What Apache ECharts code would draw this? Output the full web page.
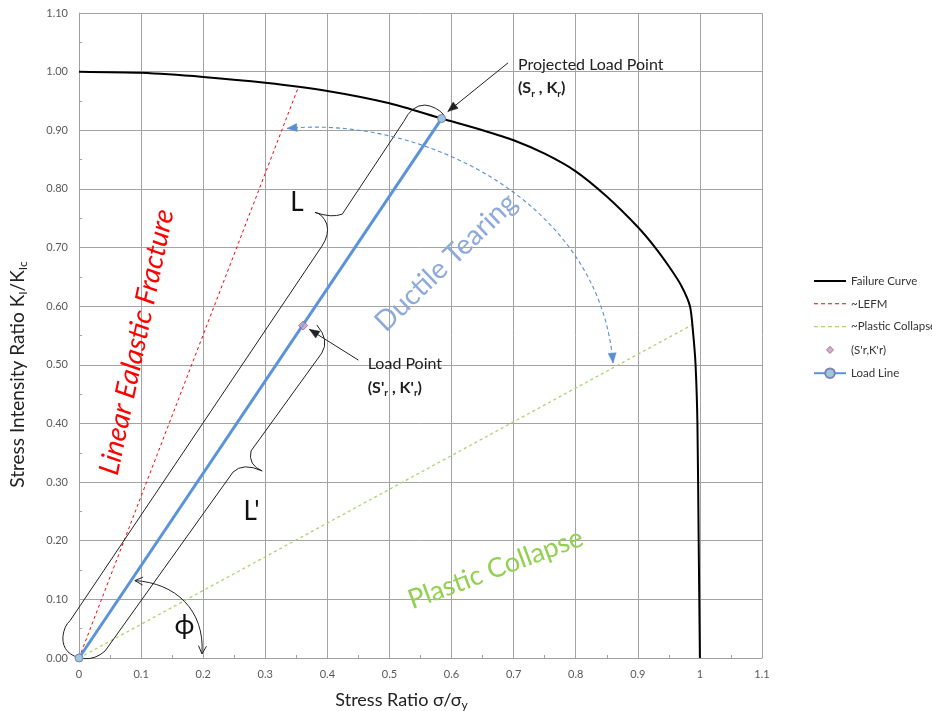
<!DOCTYPE html>
<html>
<head>
<meta charset="utf-8">
<script src="https://cdn.jsdelivr.net/npm/echarts@6/dist/echarts.min.js"></script>
<style>html,body{margin:0;padding:0;background:#fff}#c{width:932px;height:711px}</style>
</head>
<body>
<div id="c"></div>
<script>
// ---- data ----
const failureX = [0, 0.1, 0.2, 0.3, 0.4, 0.5, 0.584, 0.65, 0.7, 0.75, 0.8, 0.85, 0.9, 0.928, 0.95, 0.97, 0.984, 0.989, 0.993, 0.996, 0.998, 1.0];
const failureY = [1.0, 0.998, 0.991, 0.981, 0.967, 0.946, 0.920, 0.900, 0.883, 0.860, 0.830, 0.787, 0.735, 0.700, 0.668, 0.635, 0.600, 0.555, 0.500, 0.400, 0.200, 0.000];
const lefmX = [0, 0.352];
const lefmY = [0, 0.97];
const plasticX = [0, 0.987];
const plasticY = [0, 0.568];
const loadLineX = [0, 0.584];
const loadLineY = [0, 0.920];
const loadPointX = [0.361];
const loadPointY = [0.567];
const seriesNames = ['Failure Curve', '~LEFM', '~Plastic Collapse', "(S'r,K'r)", 'Load Line'];

// annotation geometry in data coordinates
const braceL = [['M',0.008,-0.001],['Q',-0.027,0.004,-0.026,0.036],['Q',-0.024,0.055,-0.0145,0.0635],
  ['L',0.391,0.702],['Q',0.404,0.723,0.399,0.740],['Q',0.393,0.757,0.380,0.760],
  ['Q',0.407,0.750,0.424,0.757],['L',0.523,0.915],['Q',0.536,0.943,0.557,0.943],['Q',0.575,0.941,0.588,0.926]];
const braceLp = [['M',0.008,-0.001],['Q',0.026,-0.003,0.042,0.012],['L',0.248,0.317],
  ['Q',0.264,0.334,0.295,0.319],['Q',0.272,0.329,0.277,0.353],['L',0.391,0.520],['Q',0.404,0.542,0.383,0.568]];
const arcTearing = [[0.335,0.903],[0.549,0.926],[0.839,0.781],[0.860,0.503]];
const arcPhi = [[0.090,0.132],[0.155,0.128],[0.203,0.082],[0.198,0.007]];
const arrowProjected = [[0.691,1.015],[0.594,0.932]];
const arrowLoad = [[0.450,0.508],[0.371,0.5605]];

const FONT = 'Lato, "Open Sans", sans-serif';
const ICON_SOLID = 'path://M0,0h32v2h-32z';
const ICON_DASH = 'path://M0,0h4v1h-4zM7,0h4v1h-4zM14,0h4v1h-4zM21,0h4v1h-4zM28,0h4v1h-4z';
const ICON_DASH_G = 'path://M0,0h4v1.3h-4zM7,0h4v1.3h-4zM14,0h4v1.3h-4zM21,0h4v1.3h-4zM28,0h4v1.3h-4z';
const ICON_DIAMOND = 'path://M-1.7,-1.7M1.7,1.7M0,-1L1,0L0,1L-1,0Z';

function zip(a,b){return a.map((v,i)=>[v,b[i]]);}

const chart = echarts.init(document.getElementById('c'));

function renderAnno(params, api){
  const P = (x,y)=>api.coord([x,y]);
  function pathFrom(cmds){
    let d='';
    for(const c of cmds){
      const pts=[];
      for(let i=1;i<c.length;i+=2){const p=P(c[i],c[i+1]);pts.push(p[0].toFixed(2)+' '+p[1].toFixed(2));}
      d+=c[0]+' '+pts.join(' ')+' ';
    }
    return d;
  }
  function head(tip, from, len, hw, filled, color){
    const dx=tip[0]-from[0], dy=tip[1]-from[1];
    const L=Math.sqrt(dx*dx+dy*dy)||1; const ux=dx/L, uy=dy/L;
    const bx=tip[0]-ux*len, by=tip[1]-uy*len;
    const a=[bx-uy*hw, by+ux*hw], b=[bx+uy*hw, by-ux*hw];
    if(filled) return {type:'polygon', shape:{points:[tip,a,b]}, style:{fill:color, stroke:color, lineWidth:0.5}};
    return {type:'polyline', shape:{points:[a,tip,b]}, style:{fill:null, stroke:color, lineWidth:1}};
  }
  const els=[];
  els.push({type:'path', shape:{pathData:pathFrom(braceL)}, style:{fill:null, stroke:'#222', lineWidth:1}});
  els.push({type:'path', shape:{pathData:pathFrom(braceLp)}, style:{fill:null, stroke:'#222', lineWidth:1}});
  const t=arcTearing.map(p=>P(p[0],p[1]));
  els.push({type:'bezierCurve', shape:{x1:t[0][0],y1:t[0][1],cpx1:t[1][0],cpy1:t[1][1],cpx2:t[2][0],cpy2:t[2][1],x2:t[3][0],y2:t[3][1]},
    style:{fill:null, stroke:'#5b8fd0', lineWidth:1.1, lineDash:[4,3]}});
  els.push(head(t[0],t[1],10,4,true,'#5b8fd0'));
  els.push(head(t[3],t[2],10,4,true,'#5b8fd0'));
  const f=arcPhi.map(p=>P(p[0],p[1]));
  els.push({type:'bezierCurve', shape:{x1:f[0][0],y1:f[0][1],cpx1:f[1][0],cpy1:f[1][1],cpx2:f[2][0],cpy2:f[2][1],x2:f[3][0],y2:f[3][1]},
    style:{fill:null, stroke:'#222', lineWidth:1}});
  els.push(head(f[0],f[1],8,4,false,'#222'));
  els.push(head(f[3],f[2],8,4,false,'#222'));
  [arrowProjected, arrowLoad].forEach(a=>{
    const s=P(a[0][0],a[0][1]), e=P(a[1][0],a[1][1]);
    els.push({type:'line', shape:{x1:s[0],y1:s[1],x2:e[0],y2:e[1]}, style:{stroke:'#222', lineWidth:1}});
    els.push(head(e,s,10,4,true,'#222'));
  });
  function txt(x,y,text,o){
    const p=P(x,y);
    return {type:'text', x:p[0], y:p[1], rotation:(o.rot||0)*Math.PI/180,
      style:Object.assign({text:text, fill:o.color||'#222', fontSize:o.size||13, fontFamily:FONT, fontWeight:o.weight||'normal',
        fontStyle:o.style||'normal', align:o.align||'center', verticalAlign:'middle'}, o.rich?{rich:o.rich}:{})};
  }
  const subRich = {b:{fontSize:16, fontWeight:'bold', fontFamily:FONT, lineHeight:21, verticalAlign:'middle', fill:'#222'},
                   s:{fontSize:10, fontWeight:'bold', fontFamily:FONT, lineHeight:10, verticalAlign:'bottom', fill:'#222'}};
  els.push(txt(0.093,0.539,'Linear Ealastic Fracture',{rot:78,color:'#ff0000',size:28,style:'italic'}));
  els.push(txt(0.591,0.675,'Ductile Tearing',{rot:44,color:'#8eaadb',size:28}));
  els.push(txt(0.671,0.152,'Plastic Collapse',{rot:20.5,color:'#92d050',size:27}));
  els.push(txt(0.351,0.776,'L',{size:26,color:'#111'}));
  els.push(txt(0.278,0.250,"L'",{size:26,color:'#111'}));
  els.push(txt(0.170,0.055,'\u03d5',{size:27,color:'#111'}));
  els.push(txt(0.707,1.011,'Projected Load Point',{size:16,align:'left'}));
  els.push(txt(0.707,0.972,'{b|(S}{s|r}{b| , K}{s|r}{b|)}',{align:'left',rich:subRich}));
  els.push(txt(0.465,0.501,'Load Point',{size:16,align:'left'}));
  els.push(txt(0.465,0.461,"{b|(S'}{s|r}{b| , K'}{s|r}{b|)}",{align:'left',rich:subRich}));
  return {type:'group', children:els};
}

const axisCommon = {
  type:'value', min:0, max:1.1, interval:0.1,
  axisLine:{show:true, lineStyle:{color:'#a0a0a0', width:1}},
  axisTick:{show:false, inside:true},
  minorTick:{show:true, splitNumber:2, length:3, lineStyle:{color:'#a0a0a0'}},
  splitLine:{show:true, lineStyle:{color:'#a3a3a3', width:1}},
  minorSplitLine:{show:false}
};

const option = {
  animation:false,
  backgroundColor:'#fff',
  grid:{left:79, right:170, top:13, bottom:53, containLabel:false, outerBoundsMode:'none'},
  legend:{
    orient:'vertical', left:808, top:270, itemWidth:32, itemHeight:12, itemGap:10.8,
    textStyle:{fontSize:11.5, color:'#333', fontFamily:FONT},
    data:[
      {name:seriesNames[0], icon:ICON_SOLID, itemStyle:{color:'#000', borderWidth:0}},
      {name:seriesNames[1], icon:ICON_DASH, itemStyle:{color:'#ff0000', borderWidth:0}},
      {name:seriesNames[2], icon:ICON_DASH_G, itemStyle:{color:'#a9d46f', borderWidth:0}},
      {name:seriesNames[3], icon:ICON_DIAMOND, itemStyle:{color:'#a8a6d6', borderColor:'#c0504d', borderWidth:1}},
      {name:seriesNames[4]}
    ]
  },
  xAxis:Object.assign({}, axisCommon, {
    axisLabel:{color:'#595959', fontSize:11, margin:11, fontFamily:FONT},
    name:'{n|Stress Ratio \u03c3/\u03c3}{s|y}', nameLocation:'middle', nameGap:31,
    nameTextStyle:{padding:[0,38,0,0], rich:{n:{fontSize:18, color:'#222', fontFamily:FONT, lineHeight:22, verticalAlign:'middle'},
      s:{fontSize:12, color:'#222', fontFamily:FONT, lineHeight:11, verticalAlign:'bottom'}}}
  }),
  yAxis:Object.assign({}, axisCommon, {
    axisLabel:{color:'#595959', fontSize:11, margin:11, fontFamily:FONT, formatter:v=>v.toFixed(2)},
    name:'{n|Stress Intensity Ratio K}{s|I}{n|/K}{s|Ic}', nameLocation:'middle', nameGap:50, nameRotate:90,
    nameTextStyle:{padding:[0,78,0,0], rich:{n:{fontSize:19, color:'#222', fontFamily:FONT, lineHeight:22, verticalAlign:'middle'},
      s:{fontSize:12, color:'#222', fontFamily:FONT, lineHeight:10, verticalAlign:'bottom'}}}
  }),
  series:[
    {name:seriesNames[0], type:'line', data:zip(failureX,failureY), symbol:'none', smooth:0.25,
      lineStyle:{color:'#000', width:2}, itemStyle:{color:'#000'}, z:3},
    {name:seriesNames[1], type:'line', data:zip(lefmX,lefmY), symbol:'none',
      lineStyle:{color:'#ff0000', width:1, type:[3,3]}, itemStyle:{color:'#ff0000'}, z:2},
    {name:seriesNames[2], type:'line', data:zip(plasticX,plasticY), symbol:'none',
      lineStyle:{color:'#a9d46f', width:1.3, type:[3,3]}, itemStyle:{color:'#a9d46f'}, z:2},
    {name:'annotations', type:'custom', coordinateSystem:'cartesian2d', data:[[0,0]], renderItem:renderAnno, clip:false, silent:true, z:4},
    {name:seriesNames[3], type:'scatter', data:zip(loadPointX,loadPointY), symbol:'diamond', symbolSize:9,
      itemStyle:{color:'#a8a6d6', borderColor:'#c0504d', borderWidth:1}, z:6},
    {name:seriesNames[4], type:'line', data:zip(loadLineX,loadLineY), symbol:'circle', symbolSize:8, showSymbol:true,
      lineStyle:{color:'#5b93da', width:3}, itemStyle:{color:'#9bc9dc', borderColor:'#7f80b8', borderWidth:1}, z:5}
  ]
};
chart.setOption(option);
</script>
</body>
</html>
